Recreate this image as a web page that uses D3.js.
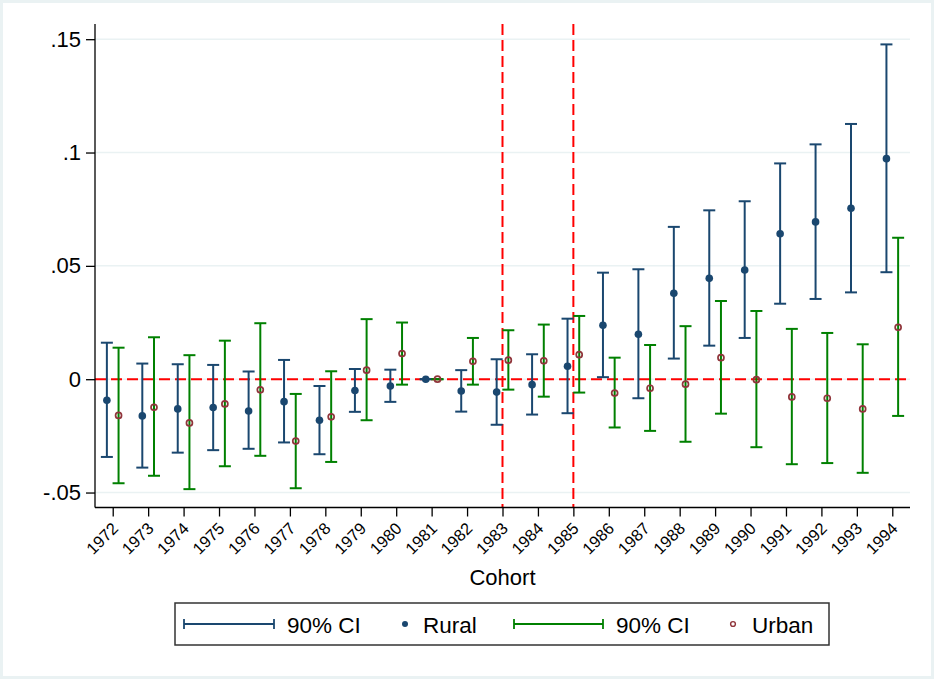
<!DOCTYPE html>
<html>
<head>
<meta charset="utf-8">
<script src="https://cdnjs.cloudflare.com/ajax/libs/d3/7.8.5/d3.min.js"></script>
<style>
  body { margin: 0; background: #fff; }
  text { font-family: "Liberation Sans", Arial, Helvetica, sans-serif; fill: #000; }
</style>
</head>
<body>
<div id="chart-area"></div>
<script>
var cohorts = [1972, 1973, 1974, 1975, 1976, 1977, 1978, 1979, 1980, 1981, 1982, 1983,
               1984, 1985, 1986, 1987, 1988, 1989, 1990, 1991, 1992, 1993, 1994];

var ruralEst = [-0.0093, -0.0162, -0.0131, -0.0125, -0.0140, -0.0099, -0.0181, -0.0050, -0.0030, 0, -0.0052, -0.0057,
                -0.0024, 0.0057, 0.0238, 0.0198, 0.0379, 0.0445, 0.0482, 0.0642, 0.0694, 0.0754, 0.0973];
var ruralLo  = [-0.0343, -0.0390, -0.0324, -0.0313, -0.0307, -0.0279, -0.0331, -0.0144, -0.0100, 0, -0.0143, -0.0201,
                -0.0156, -0.0150, 0.0009, -0.0084, 0.0091, 0.0148, 0.0182, 0.0333, 0.0354, 0.0383, 0.0472];
var ruralHi  = [0.0161, 0.0069, 0.0066, 0.0063, 0.0034, 0.0085, -0.0030, 0.0045, 0.0042, 0, 0.0040, 0.0088,
                0.0110, 0.0267, 0.0470, 0.0485, 0.0672, 0.0745, 0.0785, 0.0952, 0.1036, 0.1126, 0.1477];

var urbanEst = [-0.0160, -0.0124, -0.0193, -0.0109, -0.0047, -0.0273, -0.0166, 0.0040, 0.0113, 0, 0.0079, 0.0084,
                0.0081, 0.0108, -0.0061, -0.0040, -0.0022, 0.0095, -0.0002, -0.0078, -0.0084, -0.0131, 0.0229];
var urbanLo  = [-0.0459, -0.0426, -0.0485, -0.0384, -0.0338, -0.0481, -0.0365, -0.0181, -0.0024, 0, -0.0024, -0.0046,
                -0.0077, -0.0059, -0.0213, -0.0228, -0.0276, -0.0152, -0.0300, -0.0375, -0.0370, -0.0413, -0.0162];
var urbanHi  = [0.0139, 0.0185, 0.0106, 0.0170, 0.0247, -0.0065, 0.0035, 0.0265, 0.0250, 0, 0.0182, 0.0216,
                0.0241, 0.0279, 0.0095, 0.0151, 0.0234, 0.0345, 0.0301, 0.0222, 0.0204, 0.0154, 0.0624];

var yTicks = [-0.05, 0, 0.05, 0.1, 0.15];
var yTickLabels = ["-.05", "0", ".05", ".1", ".15"];
var refCohorts = [1983, 1985];
var legendLabels = ["90% CI", "Rural", "90% CI", "Urban"];

var width = 934, height = 679;
var navy = "#1a476f", green = "#008000", cranberry = "#90353b", grid = "#eaf2f3";
var offset = 0.165;

var svg = d3.select("#chart-area").append("svg")
            .attr("width", width)
            .attr("height", height);

// graph region
svg.append("rect").attr("width", width).attr("height", height).attr("fill", grid);
svg.append("rect").attr("x", 3).attr("y", 3).attr("width", width - 6).attr("height", height - 6).attr("fill", "#fff");

var x = d3.scaleLinear().domain([1971.5, 1994.5]).range([95, 910]);
var y = d3.scaleLinear().domain([-0.0566, 0.1567]).range([507.5, 24]);

// gridlines
svg.append("g").selectAll("line").data(yTicks).enter().append("line")
   .attr("x1", 95).attr("x2", 910)
   .attr("y1", (d) => y(d)).attr("y2", (d) => y(d))
   .attr("stroke", grid).attr("stroke-width", 1.5);

// reference lines
svg.append("line")
   .attr("x1", 95).attr("x2", 910).attr("y1", y(0)).attr("y2", y(0))
   .attr("stroke", "#ff0000").attr("stroke-width", 2).attr("stroke-dasharray", "11,5");
svg.append("g").selectAll("line").data(refCohorts).enter().append("line")
   .attr("x1", (d) => x(d)).attr("x2", (d) => x(d))
   .attr("y1", 24).attr("y2", 507.5)
   .attr("stroke", "#ff0000").attr("stroke-width", 2).attr("stroke-dasharray", "11,5");

// axes
var leftAxis = d3.axisLeft(y).tickValues(yTicks).tickSize(9).tickPadding(5)
                 .tickFormat((d, i) => yTickLabels[i]);
var yAxisG = svg.append("g").attr("transform", "translate(95,0)").call(leftAxis);
yAxisG.select(".domain").attr("d", "M0,24V507.5").attr("stroke", "#000").attr("stroke-width", 1.3);
yAxisG.selectAll(".tick line").attr("stroke", "#000").attr("stroke-width", 1.3);
yAxisG.selectAll("text").attr("font-size", "22px").attr("font-family", "Liberation Sans, Arial, sans-serif");

var bottomAxis = d3.axisBottom(x).tickValues(cohorts).tickSize(9).tickFormat(d3.format("d"));
var xAxisG = svg.append("g").attr("transform", "translate(0,507.5)").call(bottomAxis);
xAxisG.select(".domain").attr("d", "M95,0H910").attr("stroke", "#000").attr("stroke-width", 1.3);
xAxisG.selectAll(".tick line").attr("stroke", "#000").attr("stroke-width", 1.3);
xAxisG.selectAll("text")
      .attr("font-size", "16.5px")
      .attr("font-family", "Liberation Sans, Arial, sans-serif")
      .attr("text-anchor", "end")
      .attr("dy", null)
      .attr("y", 0).attr("x", 0)
      .attr("transform", "translate(6,22) rotate(-45)");

svg.append("text")
   .attr("x", 502.5).attr("y", 585)
   .attr("font-size", "22px")
   .attr("text-anchor", "middle")
   .text("Cohort");

// CI bars and markers
function drawSeries(est, lo, hi, shift, lineColor) {
  var gS = svg.append("g");
  var rows = cohorts.map((c, i) => ({c: c, est: est[i], lo: lo[i], hi: hi[i]}));
  gS.selectAll(".bar").data(rows).enter().append("line")
    .attr("x1", (d) => x(d.c + shift)).attr("x2", (d) => x(d.c + shift))
    .attr("y1", (d) => y(d.lo)).attr("y2", (d) => y(d.hi))
    .attr("stroke", lineColor).attr("stroke-width", 2);
  ["lo", "hi"].forEach((k) => {
    gS.selectAll(".cap-" + k).data(rows).enter().append("line")
      .attr("x1", (d) => x(d.c + shift) - 6).attr("x2", (d) => x(d.c + shift) + 6)
      .attr("y1", (d) => y(d[k])).attr("y2", (d) => y(d[k]))
      .attr("stroke", lineColor).attr("stroke-width", 2);
  });
  return {g: gS, rows: rows};
}

var rural = drawSeries(ruralEst, ruralLo, ruralHi, -offset, navy);
rural.g.selectAll("circle").data(rural.rows).enter().append("circle")
  .attr("cx", (d) => x(d.c - offset)).attr("cy", (d) => y(d.est))
  .attr("r", 3.8).attr("fill", navy);

var urban = drawSeries(urbanEst, urbanLo, urbanHi, offset, green);
urban.g.selectAll("circle").data(urban.rows).enter().append("circle")
  .attr("cx", (d) => x(d.c + offset)).attr("cy", (d) => y(d.est))
  .attr("r", 3).attr("fill", "none").attr("stroke", cranberry).attr("stroke-width", 1.7);

// legend
var legend = svg.append("g");
legend.append("rect")
      .attr("x", 175).attr("y", 603).attr("width", 654).attr("height", 42)
      .attr("fill", "#fff").attr("stroke", "#333").attr("stroke-width", 1.5);
var ly = 624;
[[184, 274, navy], [514, 603, green]].forEach((s) => {
  legend.append("line").attr("x1", s[0]).attr("x2", s[1]).attr("y1", ly).attr("y2", ly)
        .attr("stroke", s[2]).attr("stroke-width", 1.8);
  [s[0], s[1]].forEach((cx) => {
    legend.append("line").attr("x1", cx).attr("x2", cx).attr("y1", ly - 5).attr("y2", ly + 5)
          .attr("stroke", s[2]).attr("stroke-width", 1.8);
  });
});
legend.append("circle").attr("cx", 405).attr("cy", ly).attr("r", 3).attr("fill", navy);
legend.append("circle").attr("cx", 733).attr("cy", ly).attr("r", 2.4)
      .attr("fill", "none").attr("stroke", cranberry).attr("stroke-width", 1.4);
var legendX = [287, 423, 616, 752];
legendLabels.forEach((t, i) => {
  legend.append("text").attr("x", legendX[i]).attr("y", 632.5)
        .attr("font-size", "22.5px").text(t);
});
</script>
</body>
</html>
